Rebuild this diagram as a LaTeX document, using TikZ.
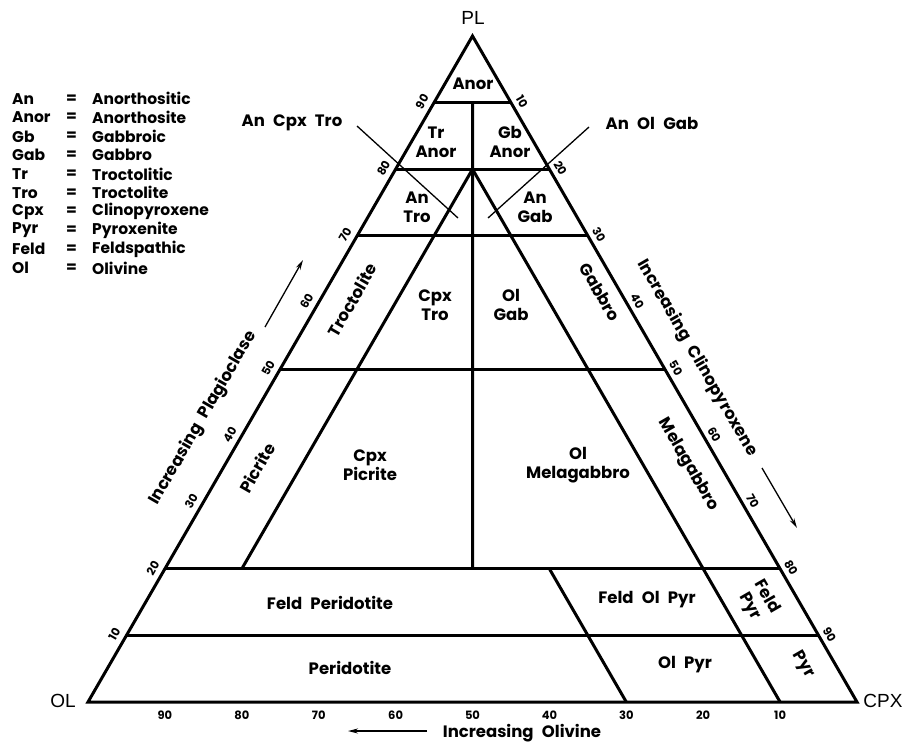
\documentclass[tikz,border=0pt]{standalone}
\usepackage{fontspec}
\setmainfont{Poppins}
\setsansfont{Liberation Sans}
\usetikzlibrary{arrows.meta}
\newcommand\fieldfont{\fontsize{16.5}{19}\selectfont\bfseries\spaceskip=0.5em\relax}

\begin{document}
\begin{tikzpicture}[x=1pt, y=-1pt]
\tikzstyle{edgestyle}=[line width=3pt, line join=miter]
\tikzstyle{leader}=[line width=1.3pt]
\tikzstyle{trend}=[line width=1.3pt, -{Stealth[length=10pt, width=5pt]}]
\tikzstyle{field}=[font=\fieldfont, align=center, inner sep=0pt]
\tikzstyle{tick}=[font=\fontsize{11.5}{13}\selectfont\bfseries, inner sep=0pt]
\tikzstyle{corner}=[font=\sffamily\fontsize{19}{21}\selectfont, inner sep=0pt]
\tikzstyle{legend}=[font=\fontsize{15.5}{17}\selectfont\bfseries, anchor=west, inner sep=0pt]
\useasboundingbox (0,0) rectangle (920,744);

\coordinate (OL) at (88,702);
\coordinate (CPX) at (857,702);
\coordinate (PL) at (472.5,36);
\node[corner] (olname) at (63,701) {OL};
\node[corner] (cpxname) at (883,701) {CPX};
\node[corner] (plname) at (473,18) {PL};

% side points and scale numbers
\foreach \p in {10,20,...,90} {
  \pgfmathtruncatemacro\q{100-\p}
  \pgfmathsetmacro\fp{\p/100}
  \pgfmathsetmacro\fq{\q/100}
  \coordinate (l\p) at (barycentric cs:OL=\fq,PL=\fp);
  \coordinate (r\p) at (barycentric cs:CPX=\fq,PL=\fp);
  \coordinate (b\p) at (barycentric cs:OL=\fp,CPX=\fq);
  \node[tick, rotate=60] (lt\p) at ([xshift=-12pt, yshift=1pt]l\p) {\p};
  \node[tick, rotate=-60] (rt\p) at ([xshift=11pt, yshift=1pt]r\p) {\q};
  \node[tick] (bt\p) at ([yshift=-13pt]b\p) {\p};
}

\coordinate (c90) at (barycentric cs:OL=0.05,CPX=0.05,PL=0.9);
\coordinate (c80) at (barycentric cs:OL=0.1,CPX=0.1,PL=0.8);
\coordinate (c20) at (barycentric cs:OL=0.4,CPX=0.4,PL=0.2);
\coordinate (tro20) at (barycentric cs:OL=0.7,CPX=0.1,PL=0.2);
\coordinate (pyr20) at (barycentric cs:OL=0.3,CPX=0.5,PL=0.2);

\draw[edgestyle] (OL) -- (CPX) -- (PL) -- cycle;
\foreach \p in {10,20,50,70,80,90}
  \draw[edgestyle] (l\p) -- (r\p);
\draw[edgestyle] (c90) -- (c20);
\draw[edgestyle] (c80) -- (tro20);
\draw[edgestyle] (c80) -- (b10);
\draw[edgestyle] (pyr20) -- (b30);

% leaders for the mixed fields
\coordinate (lead1a) at (357,126);
\coordinate (lead1b) at (458,218);
\coordinate (lead2a) at (589,127);
\coordinate (lead2b) at (488,218);
\draw[leader] (lead1a) -- (lead1b);
\draw[leader] (lead2a) -- (lead2b);
\node[field] (ancpxtro) at (292,123) {An Cpx Tro};
\node[field] (anolgab) at (652,123) {An Ol Gab};

\node[field] (anor) at (473,84) {Anor};
\node[field] (tranor) at (436,142) {Tr\\Anor};
\node[field] (gbanor) at (510,142) {Gb\\Anor};
\node[field] (antro) at (417,207) {An\\Tro};
\node[field] (angab) at (535,207) {An\\Gab};
\node[field, rotate=60] (troct) at (352,300) {Troctolite};
\node[field] (cpxtro) at (435,305) {Cpx\\Tro};
\node[field] (olgab) at (511,305) {Ol\\Gab};
\node[field, rotate=-60] (gabbro) at (600,292) {Gabbro};
\node[field, rotate=60] (picrite) at (257,468) {Picrite};
\node[field] (cpxpic) at (370,465) {Cpx\\Picrite};
\node[field] (olmela) at (578,465) {Ol\\Melagabbro};
\node[field, rotate=-60] (mela) at (688,465) {Melagabbro};
\node[field] (feldper) at (330,603) {Feld Peridotite};
\node[field] (feldolpyr) at (647,600) {Feld Ol Pyr};
\node[field, rotate=-60] (feldpyr) at (758,602) {Feld\\Pyr};
\node[field] (perid) at (350,668) {Peridotite};
\node[field] (olpyr) at (685,665) {Ol Pyr};
\node[field, rotate=-60] (pyr) at (803,665) {Pyr};

% axis titles
\node[field, rotate=60] (incpl) at (203,418) {Increasing Plagioclase};
\node[field, rotate=-60] (inccpx) at (697,358) {Increasing Clinopyroxene};
\node[field] (incol) at (522,733) {Increasing Olivine};
\coordinate (arpl0) at (265,327);
\coordinate (arpl1) at (303,260);
\coordinate (arcpx0) at (762,468);
\coordinate (arcpx1) at (797,528);
\coordinate (arol0) at (427,731);
\coordinate (arol1) at (348,731);
\draw[trend] (arpl0) -- (arpl1);
\draw[trend] (arcpx0) -- (arcpx1);
\draw[trend] (arol0) -- (arol1);

% abbreviations
\foreach \ab/\full [count=\i] in {An/Anorthositic, Anor/Anorthosite, Gb/Gabbroic,
  Gab/Gabbro, Tr/Troctolitic, Tro/Troctolite, Cpx/Clinopyroxene, Pyr/Pyroxenite,
  Feld/Feldspathic, Ol/Olivine} {
  \node[legend] (ab\i) at (12,80+18.8*\i) {\ab};
  \node[legend] (eq\i) at (66,80+18.8*\i) {=};
  \node[legend] (full\i) at (92,80+18.8*\i) {\full};
}
\end{tikzpicture}
\end{document}
